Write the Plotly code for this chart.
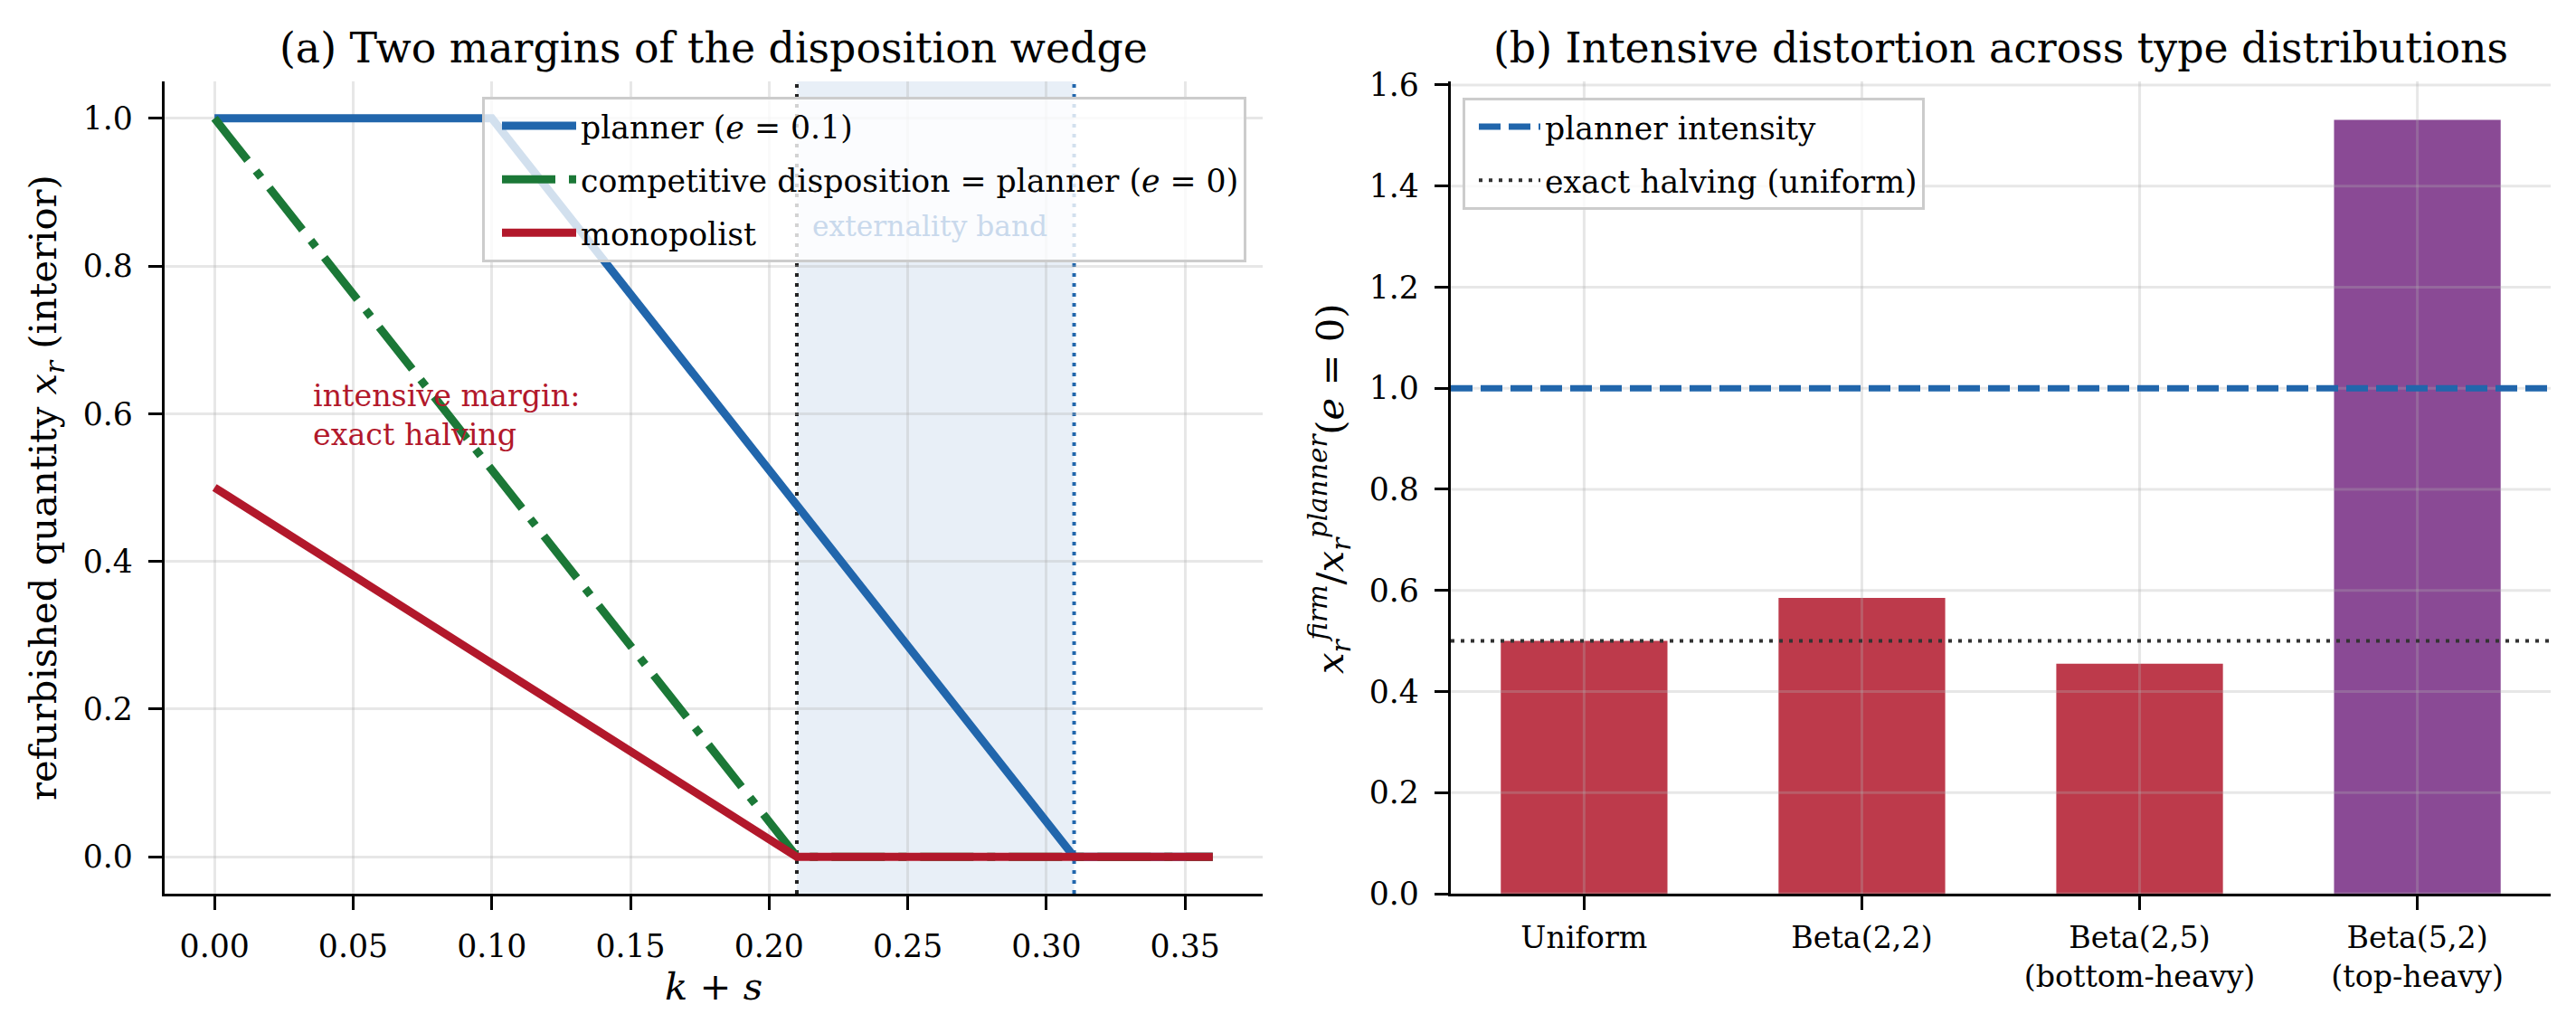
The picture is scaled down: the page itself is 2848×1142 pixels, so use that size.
import plotly.graph_objects as go

# ---------------- data: panel (a) ----------------
planner_x = [0.0, 0.10, 0.31, 0.36]
planner_y = [1.0, 1.0, 0.0, 0.0]
comp_x = [0.0, 0.21, 0.36]
comp_y = [1.0, 0.0, 0.0]
mono_x = [0.0, 0.21, 0.36]
mono_y = [0.5, 0.0, 0.0]
band_lo = 0.21
band_hi = 0.31
a_xticks = [0.00, 0.05, 0.10, 0.15, 0.20, 0.25, 0.30, 0.35]
a_yticks = [0.0, 0.2, 0.4, 0.6, 0.8, 1.0]
a_xrange = [-0.018, 0.378]
a_yrange = [-0.05, 1.05]
annot_pos = (0.035, 0.56)
band_text_pos = (0.215, 0.854)

# ---------------- data: panel (b) ----------------
dist_labels = ["Uniform", "Beta(2,2)", "Beta(2,5)<br>(bottom-heavy)", "Beta(5,2)<br>(top-heavy)"]
ratio = [0.50, 0.585, 0.455, 1.531]
bar_colors = ["rgba(178,24,43,0.85)", "rgba(178,24,43,0.85)", "rgba(178,24,43,0.85)", "rgba(118,42,131,0.85)"]
planner_level = 1.0
halving_level = 0.5
b_yticks = [0.0, 0.2, 0.4, 0.6, 0.8, 1.0, 1.2, 1.4, 1.6]
b_xrange = [-0.48, 3.48]
b_yrange = [0.0, 1.607]
dist_pos = list(range(len(dist_labels)))

FONT = "DejaVu Serif"
W, H = 2848, 1142
TICK = 34.7
LEG = 34.7
BLUE, GREEN, RED = "#2166ac", "#1b7837", "#b2182b"
GRID = "rgba(176,176,176,0.3)"

fig = go.Figure()

# ---- panel (a) traces
fig.add_trace(go.Scatter(x=planner_x, y=planner_y, mode="lines", name="planner (<i>e</i> = 0.1)",
                         line=dict(color=BLUE, width=9), legend="legend", legendgroup="a1",
                         xaxis="x", yaxis="y"))
fig.add_trace(go.Scatter(x=comp_x, y=comp_y, mode="lines",
                         name="competitive disposition = planner (<i>e</i> = 0)",
                         line=dict(color=GREEN, width=9, dash="59px,15px,9px,15px"),
                         legend="legend", legendgroup="a2", xaxis="x", yaxis="y"))
fig.add_trace(go.Scatter(x=mono_x, y=mono_y, mode="lines", name="monopolist",
                         line=dict(color=RED, width=9), legend="legend", legendgroup="a3",
                         xaxis="x", yaxis="y"))

# ---- panel (b) traces
fig.add_trace(go.Bar(x=dist_pos, y=ratio, width=0.6, marker=dict(color=bar_colors, line=dict(width=0)),
                     showlegend=False, xaxis="x2", yaxis="y2"))

# grid for panel (b), drawn above bars but below reference lines
gx, gy = [], []
for v in b_yticks:
    gx += [b_xrange[0], b_xrange[1], None]
    gy += [v, v, None]
for p in dist_pos:
    gx += [p, p, None]
    gy += [b_yrange[0], b_yrange[1], None]
fig.add_trace(go.Scatter(x=gx, y=gy, mode="lines", line=dict(color=GRID, width=3),
                         showlegend=False, hoverinfo="skip", xaxis="x2", yaxis="y2"))

fig.add_trace(go.Scatter(x=b_xrange, y=[planner_level, planner_level], mode="lines",
                         name="planner intensity", line=dict(color=BLUE, width=7, dash="24px,9px"),
                         legend="legend2", legendgroup="b1", xaxis="x2", yaxis="y2"))
fig.add_trace(go.Scatter(x=b_xrange, y=[halving_level, halving_level], mode="lines",
                         name="exact halving (uniform)", line=dict(color="#333333", width=4, dash="4px,7px"),
                         legend="legend2", legendgroup="b2", xaxis="x2", yaxis="y2"))

# ---- shapes: band and threshold lines (panel a)
fig.add_shape(type="rect", xref="x", yref="y domain", x0=band_lo, x1=band_hi, y0=0, y1=1,
              fillcolor="rgba(33,102,172,0.1)", line=dict(width=0), layer="below")
fig.add_shape(type="line", xref="x", yref="y domain", x0=band_lo, x1=band_lo, y0=0, y1=1,
              line=dict(color="#222222", width=4, dash="4px,7px"), layer="below")
fig.add_shape(type="line", xref="x", yref="y domain", x0=band_hi, x1=band_hi, y0=0, y1=1,
              line=dict(color=BLUE, width=4, dash="4px,7px"), layer="below")

axis_common = dict(showline=True, linecolor="black", linewidth=3.3, ticks="outside",
                   ticklen=15, tickwidth=3.3, tickcolor="black", zeroline=False, automargin=False,
                   tickfont=dict(family=FONT, size=TICK, color="black"))

dom_a = [182 / W, 1396 / W]
dom_b = [1604 / W, 2820 / W]
dom_y = [1 - 988 / H, 1 - 90 / H]

fig.update_layout(
    width=W, height=H, margin=dict(l=0, r=0, t=0, b=0, autoexpand=False),
    paper_bgcolor="white", plot_bgcolor="white",
    font=dict(family=FONT, color="black"),
    xaxis=dict(domain=dom_a, range=a_xrange, tickvals=a_xticks,
               ticktext=[f"{v:.2f}" for v in a_xticks], showgrid=True, gridcolor=GRID, gridwidth=3,
               anchor="y", ticklabelstandoff=10, **axis_common),
    yaxis=dict(domain=dom_y, range=a_yrange, tickvals=a_yticks,
               ticktext=[f"{v:.1f}" for v in a_yticks], showgrid=True, gridcolor=GRID, gridwidth=3,
               anchor="x", ticklabelstandoff=10, **axis_common),
    xaxis2=dict(domain=dom_b, range=b_xrange, tickvals=dist_pos, ticktext=dist_labels,
                showgrid=False, anchor="y2", ticklabelstandoff=2,
                **{**axis_common, "tickfont": dict(family=FONT, size=33.3, color="black")}),
    yaxis2=dict(domain=dom_y, range=b_yrange, tickvals=b_yticks,
                ticktext=[f"{v:.1f}" for v in b_yticks], showgrid=False, anchor="x2",
                ticklabelstandoff=10, **axis_common),
    legend=dict(x=1378 / W, y=1 - 107 / H, xanchor="right", yanchor="top",
                bgcolor="rgba(255,255,255,0.8)", bordercolor="#cccccc", borderwidth=3,
                font=dict(family=FONT, size=LEG, color="black"), tracegroupgap=11,
                traceorder="grouped", itemwidth=82, indentation=14),
    legend2=dict(x=1617 / W, y=1 - 108 / H, xanchor="left", yanchor="top",
                 bgcolor="rgba(255,255,255,0.8)", bordercolor="#cccccc", borderwidth=3,
                 font=dict(family=FONT, size=LEG, color="black"), tracegroupgap=11,
                 traceorder="grouped", itemwidth=68, indentation=10),
    showlegend=True,
)

ann = []
# titles
ann.append(dict(text="(a) Two margins of the disposition wedge", xref="paper", yref="paper",
                x=(dom_a[0] + dom_a[1]) / 2, y=1 - 53 / H, xanchor="center", yanchor="middle",
                showarrow=False, font=dict(family=FONT, size=45.8, color="black")))
ann.append(dict(text="(b) Intensive distortion across type distributions", xref="paper", yref="paper",
                x=(dom_b[0] + dom_b[1]) / 2, y=1 - 53 / H, xanchor="center", yanchor="middle",
                showarrow=False, font=dict(family=FONT, size=45.8, color="black")))
# axis titles
ann.append(dict(text="refurbished quantity <i>x<sub>r</sub></i> (interior)", xref="paper", yref="paper",
                x=50 / W, y=1 - 539 / H, xanchor="center", yanchor="middle", textangle=-90,
                showarrow=False, font=dict(family=FONT, size=41.7, color="black")))
ann.append(dict(text="<i>k</i> + <i>s</i>", xref="paper", yref="paper",
                x=(dom_a[0] + dom_a[1]) / 2, y=1 - 1090 / H, xanchor="center", yanchor="middle",
                showarrow=False, font=dict(family=FONT, size=41.7, color="black")))
ann.append(dict(text="<i>x<sub>r</sub><sup>firm</sup></i>/<i>x<sub>r</sub><sup>planner</sup></i>(<i>e</i> = 0)",
                xref="paper", yref="paper",
                x=1470 / W, y=1 - 540 / H, xanchor="center", yanchor="middle", textangle=-90,
                showarrow=False, font=dict(family=FONT, size=41.7, color="black")))
# in-plot text
ann.append(dict(text="intensive margin:<br>exact halving", xref="x", yref="y",
                x=annot_pos[0], y=annot_pos[1], xanchor="left", yanchor="bottom", align="left",
                yshift=-12, showarrow=False, font=dict(family=FONT, size=33.3, color=RED)))
ann.append(dict(text="externality band", xref="x", yref="y",
                x=band_text_pos[0], y=band_text_pos[1], xanchor="left", yanchor="middle", align="left",
                showarrow=False, font=dict(family=FONT, size=31.3, color="#c9d9ec")))
fig.update_layout(annotations=ann)

fig.write_html("out.html")
